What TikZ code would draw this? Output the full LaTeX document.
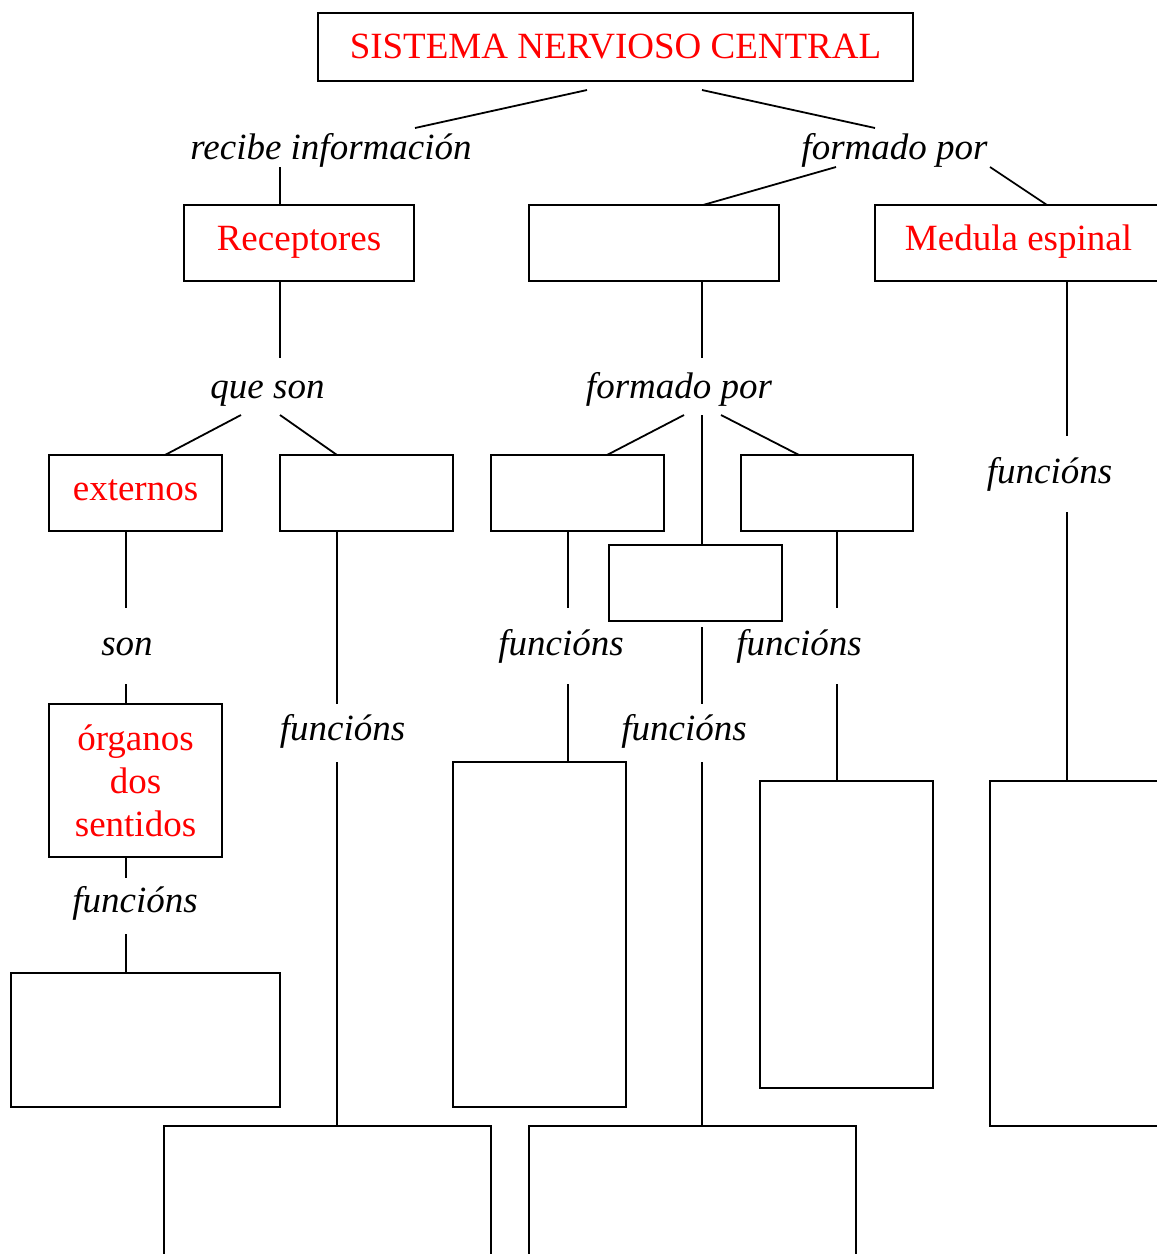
\documentclass[tikz,border=0pt]{standalone}
\usepackage{fontspec}
\setmainfont{Liberation Serif}
\definecolor{snred}{RGB}{255,0,0}
\tikzset{
  big/.style={font=\fontsize{37}{43}\selectfont},
  box/.style={draw, rectangle, inner sep=0pt, outer sep=0pt, line width=1.8pt, big},
  redtxt/.style={text=snred, text height=20pt, text depth=6pt},
  lbl/.style={big, font=\fontsize{37}{43}\selectfont\itshape, inner sep=0pt, outer sep=0pt, anchor=base},
  conn/.style={line width=1.8pt}
}
\begin{document}
\begin{tikzpicture}[x=1pt,y=-1pt]
\useasboundingbox (0,0) rectangle (1157,1254);
\clip (0,0) rectangle (1157,1254);
\fill[white] (0,0) rectangle (1157,1254);

% boxes
\node[box, text=snred, text height=26pt, text depth=4pt, minimum width=595pt, minimum height=68pt] (snc) at (615.5,47) {SISTEMA NERVIOSO CENTRAL};
\node[box, redtxt, minimum width=230pt, minimum height=76pt] (rec) at (299,243) {Receptores};
\node[box, minimum width=250pt, minimum height=76pt] (e1) at (654,243) {};
\node[box, redtxt, minimum width=287pt, minimum height=76pt] (med) at (1018.5,243) {Medula espinal};
\node[box, redtxt, minimum width=173pt, minimum height=76pt] (ext) at (135.5,493) {externos};
\node[box, minimum width=173pt, minimum height=76pt] (e2) at (366.5,493) {};
\node[box, minimum width=173pt, minimum height=76pt] (eA) at (577.5,493) {};
\node[box, minimum width=172pt, minimum height=76pt] (eB) at (827,493) {};
\node[box, minimum width=173pt, minimum height=76pt] (eC) at (695.5,583) {};
\node[box, text=snred, align=center, minimum width=173pt, minimum height=153pt] (org) at (135.5,780.5) {órganos\\dos\\sentidos};
\node[box, minimum width=269pt, minimum height=134pt] (oL) at (145.5,1040) {};
\node[box, minimum width=173pt, minimum height=345pt] (aL) at (539.5,934.5) {};
\node[box, minimum width=173pt, minimum height=307pt] (bL) at (846.5,934.5) {};
\node[box, minimum width=180pt, minimum height=345pt] (mL) at (1080,953.5) {};
\node[box, minimum width=327pt, minimum height=144pt] (botL) at (327.5,1198) {};
\node[box, minimum width=327pt, minimum height=144pt] (botR) at (692.5,1198) {};

% labels
\node[lbl] (t1) at (331,159) {recibe información};
\node[lbl] (t2) at (894.5,159) {formado por};
\node[lbl] (t3) at (267.5,398) {que son};
\node[lbl] (t4) at (679,398) {formado por};
\node[lbl] (t5) at (127,655) {son};
\node[lbl] (t6) at (135,912) {funcións};
\node[lbl] (t7) at (342.5,740) {funcións};
\node[lbl] (t8) at (561,655) {funcións};
\node[lbl] (t9) at (684,740) {funcións};
\node[lbl] (t10) at (799,655) {funcións};
\node[lbl] (t11) at (1049.5,483) {funcións};

% connectors
\draw[conn] ([shift={(-28.5,9)}]snc.south) -- ([shift={(84,-31)}]t1.base);
\draw[conn] ([shift={(86.5,9)}]snc.south) -- ([shift={(-19.5,-31)}]t2.base);
\draw[conn] ([shift={(-51,8)}]t1.base) -- ([shift={(-19,0)}]rec.north);
\draw[conn] ([shift={(-58.5,8)}]t2.base) -- ([shift={(49,0)}]e1.north);
\draw[conn] ([shift={(95.5,8)}]t2.base) -- ([shift={(28.5,0)}]med.north);
\draw[conn] ([shift={(-19,0)}]rec.south) -- ([shift={(12.5,-40)}]t3.base);
\draw[conn] ([shift={(-26.5,17)}]t3.base) -- ([shift={(29.5,0)}]ext.north);
\draw[conn] ([shift={(12.5,17)}]t3.base) -- ([shift={(-29.5,0)}]e2.north);
\draw[conn] ([shift={(48,0)}]e1.south) -- ([shift={(23,-40)}]t4.base);
\draw[conn] ([shift={(5,17)}]t4.base) -- ([shift={(29.5,0)}]eA.north);
\draw[conn] ([shift={(23,17)}]t4.base) -- ([shift={(6.5,0)}]eC.north);
\draw[conn] ([shift={(42,17)}]t4.base) -- ([shift={(-28,0)}]eB.north);
\draw[conn] ([shift={(48.5,0)}]med.south) -- ([shift={(17.5,-47)}]t11.base);
\draw[conn] ([shift={(17.5,29)}]t11.base) -- ([shift={(-13,0)}]mL.north);
\draw[conn] ([shift={(-9.5,0)}]ext.south) -- ([shift={(-1,-47)}]t5.base);
\draw[conn] ([shift={(-1,29)}]t5.base) -- ([shift={(-9.5,0)}]org.north);
\draw[conn] ([shift={(-9.5,0)}]org.south) -- ([shift={(-9,-34)}]t6.base);
\draw[conn] ([shift={(-9,22)}]t6.base) -- ([shift={(-19.5,0)}]oL.north);
\draw[conn] ([shift={(-29.5,0)}]e2.south) -- ([shift={(-5.5,-36)}]t7.base);
\draw[conn] ([shift={(-5.5,22)}]t7.base) -- ([shift={(9.5,0)}]botL.north);
\draw[conn] ([shift={(-9.5,0)}]eA.south) -- ([shift={(7,-47)}]t8.base);
\draw[conn] ([shift={(7,29)}]t8.base) -- ([shift={(28.5,0)}]aL.north);
\draw[conn] ([shift={(6.5,6)}]eC.south) -- ([shift={(18,-36)}]t9.base);
\draw[conn] ([shift={(18,22)}]t9.base) -- ([shift={(9.5,0)}]botR.north);
\draw[conn] ([shift={(10,0)}]eB.south) -- ([shift={(38,-47)}]t10.base);
\draw[conn] ([shift={(38,29)}]t10.base) -- ([shift={(-9.5,0)}]bL.north);
\end{tikzpicture}
\end{document}
